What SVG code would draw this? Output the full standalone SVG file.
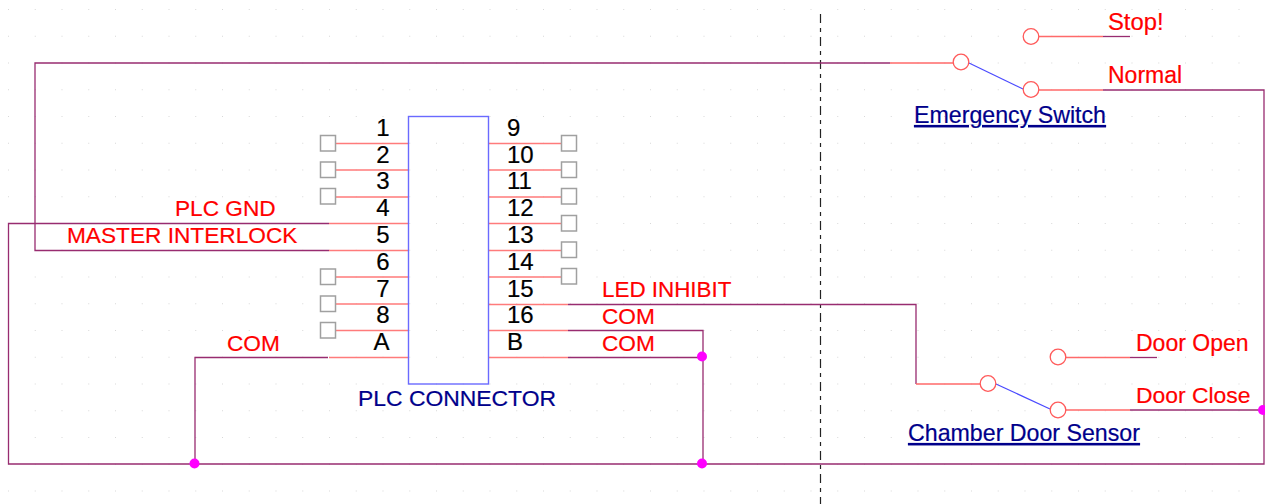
<svg xmlns="http://www.w3.org/2000/svg" width="1265" height="504" viewBox="0 0 1265 504">
<style>
text{font-family:"Liberation Sans",Arial,sans-serif;font-size:22.67px;stroke-width:.2}
.r{fill:#ff0000;stroke:#ff0000}.k{fill:#000;stroke:#000;font-size:24px}.b{fill:#00008b;stroke:#00008b;font-size:23.2px}.m{text-anchor:middle}.u{text-decoration:underline}
.w{fill:none;stroke:#982c70;stroke-width:1.3}
.p{fill:none;stroke:#ff7b7b;stroke-width:1.5}
.p2{fill:none;stroke:#ff6a6a;stroke-width:1.4}
.t{fill:#fff;stroke:#a0a0a0;stroke-width:1.5}
.c{fill:#fff;stroke:#ff5a5a;stroke-width:1.3}
.blade{stroke:#4a4aff;stroke-width:1.2}
.j{fill:#ff00ff}
.box{fill:none;stroke:#6a6aff;stroke-width:1.4}
</style>
<defs>
<pattern id="grid" patternUnits="userSpaceOnUse" x="8" y="9" width="26.75" height="26.75">
<rect width="1" height="1" fill="#d8d8d8"/>
</pattern>
</defs>
<rect width="1265" height="504" fill="#fff"/>
<rect width="1265" height="504" fill="url(#grid)"/>
<line x1="820.500" y1="14" x2="820.500" y2="504" stroke="#222" stroke-width="1.200" stroke-dasharray="9 5 4 5"/>

<g id="connectors">
<path class="w" d="M329 223.500H8.500V464H1264V90H1103"/>
<path class="w" d="M329 250.500H35V63H890"/>
<path class="w" d="M328 357.500H195V464"/>
<path class="w" d="M568 304.500H916V384"/>
<path class="w" d="M568 330.500H703V464"/>
<path class="w" d="M568 357.500H702"/>
<path class="w" d="M1103 36.500H1130"/>
<path class="w" d="M1130 357.500H1157"/>
<path class="w" d="M1130 410H1264"/>
<path class="p" d="M329 223.500H408M329 250.500H408M329 357.500H408M488 304.500H568M488 330.500H568M488 357.500H568"/>
<path class="p2" d="M890 63H953M1039 90H1103M1039 36.500H1103M916 384H980M1066 410H1130M1066 357.500H1130"/>
<circle class="j" cx="194.500" cy="463.500" r="5"/>
<circle class="j" cx="702" cy="356.500" r="5"/>
<circle class="j" cx="702" cy="463.500" r="5"/>
<circle class="j" cx="1263" cy="410" r="5"/>
</g>

<g id="plc-connector">
<path class="p" d="M336 143.500H408M336 170H408M336 197H408M336 277H408M336 304H408M336 330.500H408M488 143.500H562M488 170H562M488 197H562M488 223.500H562M488 250.500H562M488 277H562"/>
<rect class="box" x="408.500" y="116.500" width="80" height="267.500"/>
<rect class="t" x="320.500" y="135.500" width="15" height="15.500"/>
<rect class="t" x="320.500" y="162" width="15" height="15.500"/>
<rect class="t" x="320.500" y="188.500" width="15" height="15.500"/>
<rect class="t" x="320.500" y="269" width="15" height="15.500"/>
<rect class="t" x="320.500" y="296" width="15" height="15.500"/>
<rect class="t" x="320.500" y="322.500" width="15" height="15.500"/>
<rect class="t" x="561.500" y="135.500" width="15" height="15.500"/>
<rect class="t" x="561.500" y="162" width="15" height="15.500"/>
<rect class="t" x="561.500" y="188.500" width="15" height="15.500"/>
<rect class="t" x="561.500" y="215.500" width="15" height="15.500"/>
<rect class="t" x="561.500" y="242" width="15" height="15.500"/>
<rect class="t" x="561.500" y="268.500" width="15" height="15.500"/>
<text class="k m" x="383" y="136">1</text>
<text class="k m" x="383" y="163">2</text>
<text class="k m" x="383" y="189">3</text>
<text class="k m" x="383" y="216">4</text>
<text class="k m" x="383" y="243">5</text>
<text class="k m" x="383" y="270">6</text>
<text class="k m" x="383" y="297">7</text>
<text class="k m" x="383" y="323">8</text>
<text class="k m" x="381.500" y="350">A</text>
<text class="k" x="507" y="136">9</text>
<text class="k" x="507" y="163">10</text>
<text class="k" x="507" y="189">11</text>
<text class="k" x="507" y="216">12</text>
<text class="k" x="507" y="243">13</text>
<text class="k" x="507" y="270">14</text>
<text class="k" x="507" y="297">15</text>
<text class="k" x="507" y="323">16</text>
<text class="k" x="507" y="350">B</text>
<text class="b" x="358" y="406" style="font-size:22.9px">PLC CONNECTOR</text>
</g>

<g id="net-labels">
<text class="r" x="175" y="216">PLC GND</text>
<text class="r" x="67" y="243">MASTER INTERLOCK</text>
<text class="r" x="227" y="351">COM</text>
<text class="r" x="602" y="297" style="font-size:22.4px">LED INHIBIT</text>
<text class="r" x="602" y="324">COM</text>
<text class="r" x="602" y="351">COM</text>
</g>

<g id="emergency-switch">
<line class="blade" x1="969" y1="63" x2="1023" y2="89"/>
<circle class="c" cx="961" cy="62" r="7.800"/>
<circle class="c" cx="1031" cy="89.500" r="7.800"/>
<circle class="c" cx="1031" cy="36.500" r="7.800"/>
<text class="r" x="1108" y="30" style="font-size:23.800px">Stop!</text>
<text class="r" x="1108" y="83" style="font-size:23px">Normal</text>
<text class="b u" x="914" y="123">Emergency Switch</text>
</g>

<g id="chamber-door-sensor">
<line class="blade" x1="996" y1="384" x2="1050" y2="409"/>
<circle class="c" cx="988" cy="383.500" r="7.800"/>
<circle class="c" cx="1058" cy="410" r="7.800"/>
<circle class="c" cx="1058" cy="357" r="7.800"/>
<text class="r" x="1136" y="351" style="font-size:23px">Door Open</text>
<text class="r" x="1136" y="403" style="font-size:22.900px">Door Close</text>
<text class="b u" x="908" y="441">Chamber Door Sensor</text>
</g>
</svg>
